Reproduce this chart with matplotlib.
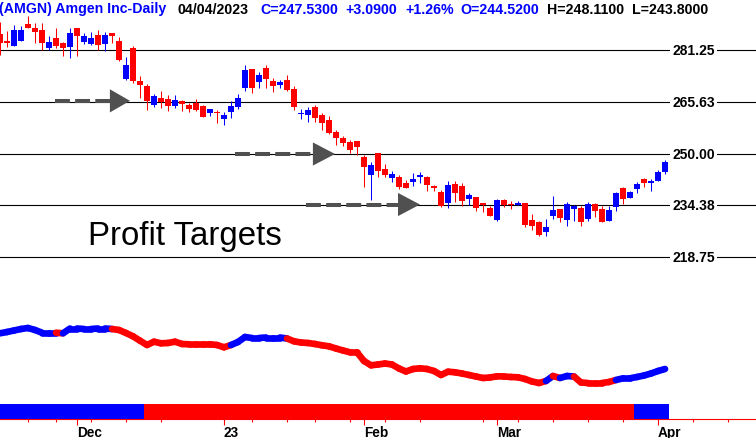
import matplotlib
matplotlib.use('Agg')
import matplotlib.pyplot as plt

plt.rcParams['font.family'] = ['Liberation Sans', 'DejaVu Sans']

# daily bars, 15 Nov 2022 .. 4 Apr 2023 (bar index 0..95)
opens = [286.1, 284.0, 282.6, 284.1, 289.1, 287.8, 287.2, 281.8, 284.8, 283.4,
         282.3, 287.9, 283.7, 283.1, 285.8, 283.2, 286.4, 284.0, 272.5, 281.8,
         271.8, 270.4, 264.7, 266.8, 266.4, 264.4, 265.8, 264.6, 265.2, 264.3,
         262.2, 262.5, 260.5, 262.6, 263.9, 269.7, 275.5, 271.7, 275.8, 271.9,
         270.8, 272.2, 269.5, 261.9, 261.6, 263.9, 261.6, 260.1, 256.4, 254.7,
         253.4, 253.8, 249.0, 243.6, 250.1, 245.3, 242.7, 242.9, 241.0, 241.5,
         243.0, 242.8, 240.2, 238.4, 235.1, 240.8, 240.2, 236.2, 236.8, 235.1,
         233.5, 230.0, 236.0, 234.7, 234.4, 235.1, 229.9, 229.4, 226.4, 231.0,
         233.2, 230.0, 233.3, 233.5, 230.3, 234.8, 233.2, 229.7, 233.9, 239.6,
         236.6, 239.3, 242.2, 241.1, 241.8, 244.52]
highs = [289.6, 287.0, 288.9, 288.6, 291.6, 289.3, 289.3, 285.4, 288.0, 283.7,
         287.9, 287.9, 286.3, 286.6, 287.2, 286.8, 286.4, 285.3, 279.2, 282.5,
         273.4, 271.0, 267.9, 268.9, 267.7, 267.7, 266.2, 265.4, 266.5, 264.6,
         263.5, 263.1, 262.5, 265.9, 268.0, 276.7, 275.5, 274.5, 276.7, 272.7,
         272.2, 273.7, 270.3, 263.4, 264.1, 264.6, 262.1, 261.4, 257.1, 255.4,
         254.1, 253.8, 249.5, 247.3, 250.1, 246.8, 244.6, 243.5, 242.1, 244.1,
         244.3, 243.1, 240.6, 239.1, 241.7, 241.6, 241.1, 238.0, 236.8, 235.1,
         234.2, 236.3, 236.3, 235.6, 235.7, 235.1, 231.7, 229.7, 230.2, 237.3,
         233.2, 235.5, 234.4, 234.0, 235.3, 235.1, 234.0, 234.2, 238.3, 240.0,
         238.6, 241.3, 242.6, 242.3, 245.0, 248.11]
lows = [279.8, 282.3, 282.4, 284.0, 287.8, 283.3, 281.3, 281.3, 281.8, 279.5,
        278.7, 279.5, 283.1, 282.9, 281.3, 280.9, 283.4, 278.0, 272.2, 271.3,
        266.9, 263.2, 264.1, 263.6, 262.7, 263.6, 262.9, 262.6, 262.7, 260.9,
        261.4, 259.2, 258.7, 260.8, 263.5, 269.0, 268.3, 269.8, 269.8, 268.7,
        269.8, 268.8, 263.2, 260.4, 259.6, 259.4, 257.2, 255.8, 252.7, 252.2,
        250.1, 249.5, 239.8, 236.1, 242.8, 242.8, 241.3, 239.3, 239.6, 240.3,
        241.0, 238.8, 238.8, 233.8, 233.4, 235.3, 234.3, 234.4, 232.7, 232.4,
        231.2, 229.7, 233.8, 233.2, 234.4, 227.9, 227.0, 225.2, 225.2, 230.2,
        229.2, 228.2, 229.7, 228.2, 229.7, 230.7, 229.4, 229.7, 232.7, 234.8,
        236.6, 238.0, 239.8, 238.8, 241.8, 243.80]
closes = [283.3, 283.5, 287.3, 287.3, 288.0, 286.8, 283.3, 283.7, 282.4, 281.9,
          286.4, 285.6, 285.4, 284.8, 282.9, 285.8, 285.4, 278.3, 276.7, 272.0,
          270.8, 265.9, 267.4, 265.6, 264.4, 266.1, 265.0, 263.4, 263.2, 261.1,
          263.4, 262.2, 261.6, 264.3, 266.8, 275.3, 269.8, 273.7, 272.5, 270.5,
          271.6, 269.2, 264.1, 262.2, 263.1, 260.7, 259.2, 256.3, 254.6, 253.2,
          251.1, 252.1, 246.0, 246.5, 244.8, 243.5, 243.8, 240.0, 239.6, 242.4,
          243.6, 240.6, 239.7, 234.0, 240.4, 238.0, 235.7, 237.4, 233.4, 234.4,
          231.2, 236.0, 234.4, 234.4, 235.1, 228.5, 228.2, 225.5, 227.7, 233.0,
          230.4, 234.7, 234.0, 229.4, 234.8, 232.7, 229.4, 233.0, 238.0, 236.3,
          238.3, 240.8, 241.1, 241.6, 244.44, 247.53]

# lower study line (height above the date axis) and its colour runs
ind_vals = [85.7, 87.0, 88.5, 90.0, 91.0, 89.0, 86.3, 86.3, 86.3, 85.7,
            90.5, 90.5, 90.0, 90.0, 90.5, 90.5, 90.0, 89.0, 86.0, 82.7,
            78.3, 74.0, 77.3, 75.7, 76.0, 77.3, 75.0, 74.7, 74.7, 74.7,
            74.7, 74.0, 71.7, 74.0, 77.0, 82.0, 81.0, 81.0, 81.5, 81.5,
            81.5, 80.5, 77.7, 76.5, 76.0, 75.0, 73.7, 72.7, 70.5, 68.5,
            66.7, 66.7, 58.0, 53.7, 54.5, 55.5, 54.5, 50.5, 47.5, 50.0,
            50.7, 50.0, 48.0, 44.0, 47.3, 46.7, 45.5, 44.0, 42.5, 41.0,
            41.5, 42.7, 42.5, 42.0, 41.7, 40.0, 37.5, 36.0, 38.0, 43.0,
            41.0, 43.0, 42.5, 36.5, 36.0, 36.0, 36.0, 37.0, 39.0, 40.7,
            40.7, 42.0, 43.5, 45.5, 48.0, 50.0]
ind_runs = [('b', 9), ('r', 1), ('b', 7), ('r', 17), ('b', 8), ('r', 37),
            ('b', 1), ('r', 1), ('b', 2), ('r', 6), ('b', 7)]
band_runs = [('b', 21), ('r', 70), ('b', 5)]

levels = [281.25, 265.63, 250.00, 234.38, 218.75]
tick_idx = [11, 32, 52, 71, 94]
tick_lbls = ['Dec', '23', 'Feb', 'Mar', 'Apr']
minor_idx = [4, 8, 13, 18, 23, 36, 41, 45, 50, 55, 60, 69, 74, 79, 84, 89, 99, 104]

# arrows: dash start, head base, head tip (bar index), price
arrows = [(7.86, 15.7, 18.57, 265.9),
          (33.57, 44.7, 47.86, 249.85),
          (43.7, 56.86, 60.0, 234.6)]

header = [("(AMGN) Amgen Inc-Daily", -1, 'b'), ("04/04/2023", 178, 'k'),
          ("C=247.5300", 260, 'b'), ("+3.0900", 345, 'b'), ("+1.26%", 405, 'b'),
          ("O=244.5200", 460, 'b'), ("H=248.1100", 547, 'k'), ("L=243.8000", 632, 'k')]

BLUE = '#0000ff'
RED = '#ff0000'
W, H = 756, 439
cmap = {'b': BLUE, 'r': RED, 'k': 'black'}

fig = plt.figure(figsize=(W / 100, H / 100), dpi=100)
rect = [0, 19 / H, 1, 420 / H]
ax = fig.add_axes(rect)
ax.set_xlim(0, 108)
ax.set_ylim(169.84, 296.65)
ax.axis('off')

for lv in levels:
    ax.axhline(lv, color='black', lw=0.8, zorder=1)
    ax.text(693.5 / W, lv, f'{lv:.2f}', transform=ax.get_yaxis_transform(),
            ha='center', va='center', fontsize=10, fontweight='bold',
            bbox=dict(boxstyle='square,pad=0.15', fc='white', ec='none'), zorder=2)

xs = list(range(len(opens)))
cols = [BLUE if c >= o else RED for o, c in zip(opens, closes)]
ax.vlines(xs, lows, highs, colors=cols, lw=0.75, zorder=3)
heights = [max(abs(c - o), 0.35) for o, c in zip(opens, closes)]
bottoms = [min(o, c) for o, c in zip(opens, closes)]
ax.bar(xs, heights, bottom=bottoms, width=0.72, color=cols, lw=0, zorder=4)

gray = '#505050'
for x0, xb, xt, p in arrows:
    ax.plot([x0, xb], [p, p], color=gray, lw=2.9, linestyle=(0, (3.7, 1.3)),
            dash_capstyle='butt', zorder=5)
    ax.fill([xb, xt, xb], [p - 3.5, p, p + 3.5], color=gray, lw=0, zorder=5)

fig.text(88 / W, 1 - 245 / H, 'Profit Targets', fontsize=23.8, color='black', va='baseline')

# study line
ax2 = fig.add_axes(rect, frameon=False)
ax2.set_xlim(0, 108)
ax2.set_ylim(0, 420)
ax2.axis('off')
ind_cols = []
for c, n in ind_runs:
    ind_cols += [cmap[c]] * n
for i in range(1, len(ind_vals)):
    ax2.plot([i - 1, i], [ind_vals[i - 1], ind_vals[i]], color=ind_cols[i], lw=4.8,
             solid_capstyle='round')

# colour band + date axis
axb = fig.add_axes([0, 19 / H, 1, 15 / H])
axb.set_xlim(0, 108)
axb.set_ylim(0, 1)
band_cols = []
for c, n in band_runs:
    band_cols += [cmap[c]] * n
axb.bar(xs, [1] * len(xs), width=1.0, color=band_cols, lw=0)
for s in ['top', 'left', 'right']:
    axb.spines[s].set_visible(False)
axb.spines['bottom'].set_color(RED)
axb.spines['bottom'].set_linewidth(0.8)
axb.set_yticks([])
axb.set_xticks(tick_idx)
axb.set_xticklabels(tick_lbls, fontsize=9.8, fontweight='bold')
axb.set_xticks(minor_idx, minor=True)
axb.tick_params(axis='x', which='major', length=4.5, width=0.8, color=RED, pad=0)
axb.tick_params(axis='x', which='minor', length=2.5, width=0.8, color=RED)
for lbl in axb.get_xticklabels():
    lbl.set_ha('left')

for txt, xp, c in header:
    fig.text(xp / W, 1 - 13.5 / H, txt, fontsize=10.2, fontweight='bold',
             color=cmap[c], va='baseline')

fig.savefig('out.png', dpi=100, facecolor='white')
